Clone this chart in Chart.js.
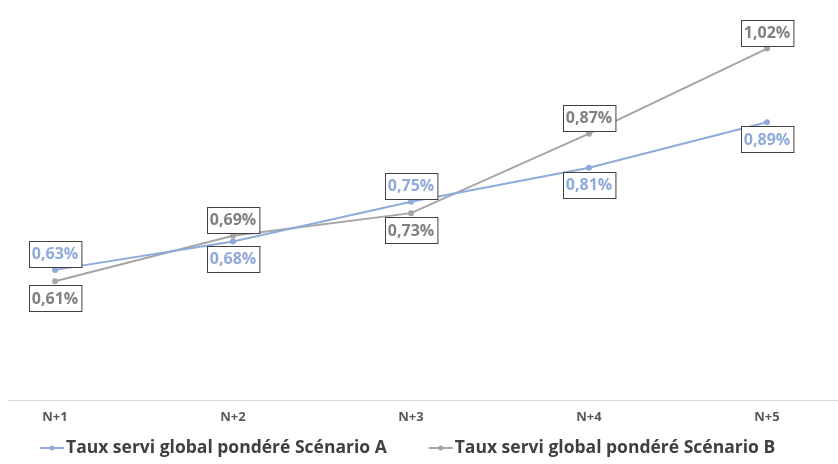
<!DOCTYPE html>
<html>
<head>
<meta charset="utf-8">
<script src="https://cdn.jsdelivr.net/npm/chart.js@4/dist/chart.umd.min.js"></script>
<style>
  html, body { margin: 0; padding: 0; background: #fff; }
  #wrap { width: 838px; height: 464px; }
</style>
</head>
<body>
<div id="wrap"><canvas id="tauxChart"></canvas></div>
<script>
const years = ['N+1', 'N+2', 'N+3', 'N+4', 'N+5'];
const scenarioA = [0.63, 0.68, 0.75, 0.81, 0.89];
const scenarioB = [0.61, 0.69, 0.73, 0.87, 1.02];

const blue = '#8eaadb';
const grey = '#a5a5a5';

function fmt(v) {
    return v.toFixed(2).replace('.', ',') + '%';
}

// ligne de base sur toute la largeur
const baseLine = {
    id: 'baseLine',
    beforeDatasetsDraw(chart) {
        var ctx = chart.ctx, y = Math.round(chart.chartArea.bottom) + 0.5;
        ctx.save();
        ctx.strokeStyle = '#d9d9d9';
        ctx.lineWidth = 1;
        ctx.beginPath(); ctx.moveTo(8, y); ctx.lineTo(838, y); ctx.stroke();
        ctx.restore();
    }
};

// étiquettes encadrées : la valeur la plus haute au-dessus, l'autre en dessous
const boxLabels = {
    id: 'boxLabels',
    afterDatasetsDraw(chart) {
        var ctx = chart.ctx;
        var ds = chart.data.datasets;
        ctx.save();
        ctx.font = 'bold 16px "Open Sans"';
        ctx.textAlign = 'center';
        ctx.textBaseline = 'middle';
        ds.forEach(function (d, i) {
            var other = ds[1 - i].data;
            chart.getDatasetMeta(i).data.forEach(function (pt, j) {
                var above = d.data[j] > other[j];
                var txt = fmt(d.data[j]);
                var w = ctx.measureText(txt).width + 6;
                var h = 26;
                var cy = above ? pt.y - 16 : pt.y + 17;
                var x0 = Math.round(pt.x - w / 2) + 0.5;
                var y0 = Math.round(cy - h / 2) + 0.5;
                ctx.fillStyle = '#fff';
                ctx.fillRect(x0, y0, w, h);
                ctx.strokeStyle = '#404040';
                ctx.lineWidth = 1;
                ctx.strokeRect(x0, y0, w, h);
                ctx.fillStyle = d.labelColor;
                ctx.fillText(txt, pt.x, cy + 1);
            });
        });
        ctx.restore();
    }
};

// légende façon Excel : trait + point, texte collé
const excelLegend = {
    id: 'excelLegend',
    afterDraw(chart) {
        var ctx = chart.ctx;
        var y = 448;
        var x = 40;
        ctx.save();
        ctx.font = 'bold 17.5px "Open Sans"';
        ctx.textBaseline = 'middle';
        ctx.textAlign = 'left';
        chart.data.datasets.forEach(function (d) {
            ctx.strokeStyle = d.borderColor;
            ctx.lineWidth = 2;
            ctx.beginPath(); ctx.moveTo(x, y); ctx.lineTo(x + 24, y); ctx.stroke();
            ctx.fillStyle = d.borderColor;
            ctx.beginPath(); ctx.arc(x + 12, y, 2.5, 0, Math.PI * 2); ctx.fill();
            ctx.fillStyle = '#404040';
            ctx.fillText(d.label, x + 26, y);
            x += 26 + ctx.measureText(d.label).width + 42;
        });
        ctx.restore();
    }
};

// axes invisibles servant seulement de marges gauche / droite
function hiddenSide(position, width) {
    return {
        position: position,
        min: 0.4,
        max: 1.095,
        grid: { display: false },
        border: { display: false },
        ticks: { display: false },
        afterFit(scale) { scale.width = width; }
    };
}

const ctx = document.getElementById('tauxChart').getContext('2d');

const tauxChart = new Chart(ctx, {
    type: 'line',
    data: {
        labels: years,
        datasets: [{
            label: 'Taux servi global pondéré Scénario A',
            data: scenarioA,
            borderColor: blue,
            backgroundColor: blue,
            borderWidth: 2,
            pointRadius: 2,
            pointStyle: 'circle',
            labelColor: '#8eaadb'
        }, {
            label: 'Taux servi global pondéré Scénario B',
            data: scenarioB,
            borderColor: grey,
            backgroundColor: grey,
            borderWidth: 2,
            pointRadius: 2,
            pointStyle: 'circle',
            labelColor: '#7f7f7f'
        }]
    },
    options: {
        responsive: true,
        maintainAspectRatio: false,
        animation: false,
        layout: { padding: { top: 0, left: 0, right: 0, bottom: 38 } },
        scales: {
            x: {
                offset: false,
                grid: { display: false },
                border: { display: false },
                ticks: {
                    color: '#595959',
                    font: { family: 'Open Sans', size: 13, weight: 'bold' },
                    padding: 1
                }
            },
            y: hiddenSide('left', 55),
            yRight: hiddenSide('right', 71)
        },
        plugins: {
            legend: { display: false },
            tooltip: { enabled: false }
        }
    },
    plugins: [baseLine, boxLabels, excelLegend]
});
</script>
</body>
</html>
